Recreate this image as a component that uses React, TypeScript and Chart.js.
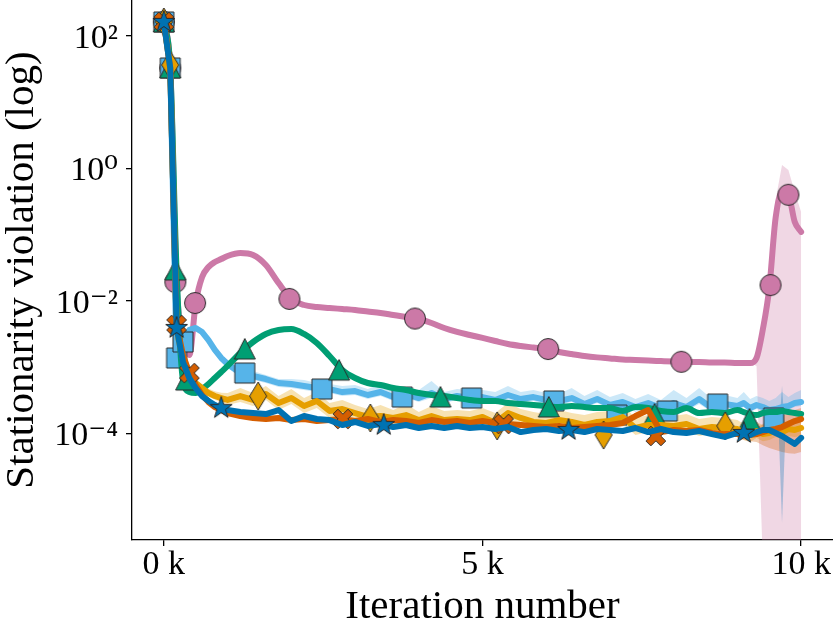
import React, { useEffect, useRef } from 'react';
import { Chart, registerables } from 'chart.js';

Chart.register(...registerables);

// ---------------- data ----------------
const iterations = [
  0, 100, 200, 300, 400, 500, 600, 700, 800, 900, 1000,
  1200, 1400, 1600, 1800, 2000, 2200, 2400, 2600, 2800, 3000,
  3200, 3400, 3600, 3800, 4000, 4200, 4400, 4600, 4800, 5000,
  5200, 5400, 5600, 5800, 6000, 6200, 6400, 6600, 6800, 7000,
  7200, 7400, 7600, 7800, 8000, 8200, 8400, 8600, 8800, 9000,
  9100, 9200, 9300, 9400, 9500, 9600, 9700, 9800, 9900, 10000,
];

const pinkVals = [
  163, 32.9, 0.0179, 0.00305, 0.00152, 0.00927, 0.0229, 0.0324, 0.0386, 0.0428, 0.0475,
  0.0527, 0.0492, 0.0348, 0.0186, 0.01065,
  0.00865, 0.00807, 0.0078, 0.00753, 0.00727,
  0.0069, 0.00655, 0.00611, 0.0057, 0.00532,
  0.00463, 0.00389, 0.0034, 0.00305, 0.00275,
  0.00247, 0.00223, 0.00208, 0.00197, 0.00187,
  0.00169, 0.00157, 0.00147, 0.0014, 0.00135,
  0.0013, 0.00128, 0.00125, 0.00123, 0.00121,
  0.00119, 0.00119, 0.00117, 0.00117, 0.00115,
  0.00115, 0.00115, 0.00137, 0.00375, 0.0156,
  0.18, 0.44, 0.40, 0.155, 0.11,
];

const lightBlueVals = [
  163, 32.9, 13.7e-4, 23.9e-4, 36.3e-4, 38.9e-4, 33.8e-4, 25.6e-4, 18.1e-4, 13.7e-4, 11.1e-4,
  8.12e-4, 7.32e-4, 6.59e-4, 5.74e-4, 5.54e-4,
  5.17e-4, 4.82e-4, 4.65e-4, 4.19e-4, 4.34e-4,
  3.78e-4, 4.19e-4, 3.52e-4, 3.91e-4, 3.40e-4,
  4.05e-4, 3.29e-4, 3.65e-4, 3.40e-4, 3.52e-4,
  3.18e-4, 3.78e-4, 3.29e-4, 3.52e-4, 3.18e-4,
  3.07e-4, 3.40e-4, 2.76e-4, 3.29e-4, 2.67e-4,
  2.96e-4, 2.49e-4, 2.86e-4, 2.40e-4, 2.86e-4,
  2.49e-4, 3.29e-4, 2.40e-4, 2.76e-4, 2.58e-4,
  2.86e-4, 2.40e-4, 2.67e-4, 2.49e-4, 2.24e-4,
  2.32e-4, 2.49e-4, 2.58e-4, 2.86e-4, 2.96e-4,
];
const lightBlueUpper = [
  175, 36, 15e-4, 26e-4, 39e-4, 42e-4, 37e-4, 28e-4, 20e-4, 15e-4, 12.8e-4,
  9.33e-4, 8.71e-4, 7.58e-4, 6.59e-4, 6.59e-4,
  6.37e-4, 5.74e-4, 5.54e-4, 5.17e-4, 5.35e-4,
  4.65e-4, 5.54e-4, 4.50e-4, 4.82e-4, 4.50e-4,
  6.15e-4, 4.19e-4, 4.65e-4, 4.50e-4, 4.50e-4,
  4.19e-4, 5.17e-4, 4.19e-4, 4.50e-4, 4.05e-4,
  3.91e-4, 4.82e-4, 3.65e-4, 4.50e-4, 3.52e-4,
  4.05e-4, 3.29e-4, 3.91e-4, 3.18e-4, 4.50e-4,
  3.40e-4, 4.82e-4, 3.29e-4, 3.78e-4, 3.40e-4,
  4.19e-4, 3.29e-4, 3.65e-4, 3.40e-4, 3.07e-4,
  3.40e-4, 4.19e-4, 3.52e-4, 4.05e-4, 4.50e-4,
];
const lightBlueLower = [
  150, 30, 12.5e-4, 22e-4, 33.5e-4, 36e-4, 31e-4, 23.5e-4, 16.5e-4, 12.5e-4, 9.66e-4,
  7.07e-4, 6.37e-4, 5.74e-4, 4.99e-4, 4.82e-4,
  4.50e-4, 4.19e-4, 4.05e-4, 3.65e-4, 3.78e-4,
  3.29e-4, 3.65e-4, 3.07e-4, 3.40e-4, 2.96e-4,
  3.40e-4, 2.86e-4, 3.18e-4, 2.96e-4, 3.07e-4,
  2.76e-4, 3.18e-4, 2.86e-4, 3.07e-4, 2.67e-4,
  2.67e-4, 2.96e-4, 2.40e-4, 2.86e-4, 2.32e-4,
  2.58e-4, 2.09e-4, 2.49e-4, 2.09e-4, 2.40e-4,
  2.17e-4, 2.76e-4, 2.09e-4, 2.32e-4, 2.24e-4,
  2.49e-4, 2.09e-4, 2.32e-4, 2.17e-4, 1.95e-4,
  2.02e-4, 2.17e-4, 2.24e-4, 2.49e-4, 2.58e-4,
];

const greenVals = [
  163, 32.9, 0.0272, 6.37e-4, 4.19e-4, 4.05e-4, 4.65e-4, 5.54e-4, 6.82e-4, 8.41e-4, 10.4e-4,
  16.3e-4, 23.9e-4, 31.6e-4, 36.3e-4, 37.5e-4,
  31.6e-4, 23.1e-4, 14.7e-4, 9.01e-4, 6.82e-4,
  5.74e-4, 5.35e-4, 4.82e-4, 4.50e-4, 4.05e-4,
  3.78e-4, 3.65e-4, 3.40e-4, 3.18e-4, 3.07e-4,
  3.07e-4, 2.86e-4, 2.76e-4, 2.67e-4, 2.58e-4,
  2.49e-4, 2.58e-4, 2.49e-4, 2.40e-4, 2.40e-4,
  2.17e-4, 2.49e-4, 2.40e-4, 2.17e-4, 2.09e-4,
  2.40e-4, 2.02e-4, 2.09e-4, 2.02e-4, 2.24e-4,
  2.09e-4, 1.95e-4, 1.88e-4, 2.02e-4, 2.09e-4,
  2.09e-4, 2.17e-4, 2.09e-4, 2.02e-4, 1.95e-4,
];

const orangeVals = [
  163, 36.5, 36.3e-4, 12.8e-4, 7.58e-4, 5.74e-4, 4.82e-4, 4.05e-4, 3.65e-4, 3.40e-4, 3.18e-4,
  3.65e-4, 3.18e-4, 3.91e-4, 2.86e-4, 3.40e-4,
  2.58e-4, 3.07e-4, 2.17e-4, 2.32e-4, 2.02e-4,
  1.76e-4, 1.82e-4, 1.70e-4, 1.88e-4, 1.58e-4,
  1.82e-4, 1.58e-4, 1.64e-4, 1.58e-4, 1.76e-4,
  1.43e-4, 2.02e-4, 1.70e-4, 1.48e-4, 1.43e-4,
  1.58e-4, 1.48e-4, 1.33e-4, 1.48e-4, 1.53e-4,
  1.76e-4, 1.20e-4, 1.33e-4, 1.33e-4, 1.29e-4,
  1.38e-4, 1.16e-4, 1.24e-4, 1.20e-4, 1.16e-4,
  1.01e-4, 0.94e-4, 1.08e-4, 0.97e-4, 1.01e-4,
  1.12e-4, 1.04e-4, 1.16e-4, 1.12e-4, 1.20e-4,
];
const orangeUpper = [
  175, 40, 40e-4, 14e-4, 8.4e-4, 6.5e-4, 5.5e-4, 4.7e-4, 4.3e-4, 4.1e-4, 4.05e-4,
  4.82e-4, 4.05e-4, 5.17e-4, 3.65e-4, 4.65e-4,
  3.40e-4, 4.19e-4, 2.86e-4, 3.18e-4, 2.67e-4,
  2.32e-4, 2.67e-4, 2.24e-4, 2.76e-4, 2.09e-4,
  2.58e-4, 2.17e-4, 2.24e-4, 2.17e-4, 2.40e-4,
  2.02e-4, 2.86e-4, 2.32e-4, 2.09e-4, 1.95e-4,
  2.24e-4, 2.02e-4, 1.88e-4, 2.09e-4, 2.17e-4,
  2.67e-4, 1.70e-4, 1.88e-4, 1.82e-4, 1.82e-4,
  1.95e-4, 1.64e-4, 1.76e-4, 1.70e-4, 1.58e-4,
  1.38e-4, 1.29e-4, 1.48e-4, 1.33e-4, 1.38e-4,
  1.53e-4, 1.43e-4, 1.58e-4, 1.53e-4, 1.64e-4,
];
const orangeLower = [
  150, 33, 33e-4, 11.5e-4, 6.8e-4, 5.1e-4, 4.3e-4, 3.6e-4, 3.2e-4, 3.0e-4, 2.67e-4,
  2.96e-4, 2.58e-4, 3.18e-4, 2.24e-4, 2.76e-4,
  2.02e-4, 2.40e-4, 1.70e-4, 1.82e-4, 1.58e-4,
  1.38e-4, 1.43e-4, 1.33e-4, 1.48e-4, 1.24e-4,
  1.43e-4, 1.24e-4, 1.29e-4, 1.24e-4, 1.38e-4,
  1.12e-4, 1.53e-4, 1.33e-4, 1.16e-4, 1.12e-4,
  1.24e-4, 1.16e-4, 1.04e-4, 1.12e-4, 1.20e-4,
  1.38e-4, 0.94e-4, 1.04e-4, 1.04e-4, 1.01e-4,
  1.08e-4, 0.91e-4, 0.97e-4, 0.94e-4, 0.88e-4,
  0.79e-4, 0.74e-4, 0.85e-4, 0.76e-4, 0.79e-4,
  0.88e-4, 0.82e-4, 0.91e-4, 0.88e-4, 0.91e-4,
];

const vermillionVals = [
  163, 32.9, 43.2e-4, 15.2e-4, 8.12e-4, 5.35e-4, 3.78e-4, 2.96e-4, 2.49e-4, 2.24e-4, 2.02e-4,
  1.82e-4, 1.70e-4, 1.64e-4, 1.70e-4, 1.58e-4,
  1.64e-4, 1.53e-4, 1.58e-4, 1.64e-4, 1.53e-4,
  1.64e-4, 1.48e-4, 1.58e-4, 1.53e-4, 1.43e-4,
  1.58e-4, 1.48e-4, 1.53e-4, 1.43e-4, 1.53e-4,
  1.43e-4, 1.38e-4, 1.33e-4, 1.29e-4, 1.24e-4,
  1.29e-4, 1.20e-4, 1.24e-4, 1.29e-4, 1.33e-4,
  1.43e-4, 1.82e-4, 2.24e-4, 1.04e-4, 1.12e-4,
  1.08e-4, 1.12e-4, 1.01e-4, 0.97e-4, 0.97e-4,
  0.94e-4, 0.94e-4, 0.97e-4, 1.04e-4, 1.12e-4,
  1.16e-4, 1.24e-4, 1.38e-4, 1.53e-4, 1.64e-4,
];
const vermillionBandIter = [9000, 9100, 9200, 9300, 9400, 9500, 9600, 9700, 9800, 9900, 10000];
const vermillionUpper = [1.12e-4, 1.12e-4, 1.12e-4, 1.20e-4, 1.38e-4, 1.58e-4, 1.70e-4, 1.82e-4, 2.02e-4, 2.24e-4, 2.40e-4];
const vermillionLower = [0.85e-4, 0.79e-4, 0.76e-4, 0.74e-4, 0.66e-4, 0.60e-4, 0.56e-4, 0.52e-4, 0.50e-4, 0.49e-4, 0.52e-4];

const blueVals = [
  163, 32.9, 38.9e-4, 11.9e-4, 6.82e-4, 4.82e-4, 3.65e-4, 3.07e-4, 2.67e-4, 2.40e-4, 2.24e-4,
  2.09e-4, 2.02e-4, 1.95e-4, 2.24e-4, 1.53e-4,
  1.82e-4, 1.64e-4, 1.58e-4, 1.33e-4, 1.48e-4,
  1.29e-4, 1.38e-4, 1.24e-4, 1.33e-4, 1.20e-4,
  1.29e-4, 1.20e-4, 1.29e-4, 1.20e-4, 1.24e-4,
  1.16e-4, 1.24e-4, 1.04e-4, 1.12e-4, 1.16e-4,
  1.08e-4, 1.12e-4, 1.04e-4, 1.16e-4, 1.12e-4,
  1.08e-4, 1.20e-4, 1.04e-4, 1.16e-4, 1.04e-4,
  1.01e-4, 1.08e-4, 0.97e-4, 0.88e-4, 1.01e-4,
  1.04e-4, 0.94e-4, 1.04e-4, 1.12e-4, 1.12e-4,
  1.01e-4, 0.91e-4, 0.79e-4, 0.69e-4, 0.85e-4,
];
const blueBandIter = [9650, 9700, 9750];
const blueUpper = [0.98e-4, 5.2e-4, 0.90e-4];
const blueLower = [0.92e-4, 4.4e-6, 0.84e-4];

const pinkBandIter = [9200, 9300, 9400, 9500, 9600, 9700, 9800, 9900, 10000];
const pinkUpper = [1.15e-3, 1.47e-3, 4.17e-3, 0.0206, 0.336, 1.13, 0.946, 0.44, 0.22];
const pinkLower = [1.15e-3, 1.04e-3, 1e-6, 1e-6, 1e-6, 1e-6, 1e-6, 1e-6, 1e-6];

// marker positions
const pinkMarkIter = [0, 100, 180, 490, 1970, 3940, 6030, 8120, 9520, 9800];
const pinkMarkVals = [163, 32.9, 0.0192, 0.00927, 0.0107, 0.0054, 0.00187, 0.0012, 0.0173, 0.40];
const lightBlueMarkIter = [0, 100, 200, 300, 1270, 2480, 3740, 4830, 6120, 7110, 7900, 8690, 9570];
const lightBlueMarkVals = [163, 32.9, 13.7e-4, 23.9e-4, 8.12e-4, 4.65e-4, 3.52e-4, 3.40e-4, 3.07e-4, 1.88e-4, 2.17e-4, 2.76e-4, 1.70e-4];
const greenMarkIter = [0, 100, 180, 350, 1270, 2750, 4340, 6040, 7700, 9190];
const greenMarkVals = [163, 32.9, 0.0292, 6.37e-4, 18.7e-4, 9.0e-4, 3.52e-4, 2.49e-4, 1.95e-4, 1.64e-4];
const orangeMarkIter = [0, 100, 1480, 3240, 5230, 6900, 8810];
const orangeMarkVals = [163, 36.5, 3.65e-4, 1.70e-4, 1.29e-4, 0.94e-4, 1.29e-4];
const vermillionMarkIter = [0, 200, 400, 2810, 5330, 7720];
const vermillionMarkVals = [163, 43.2e-4, 8.12e-4, 1.64e-4, 1.38e-4, 0.91e-4];
const blueMarkIter = [0, 200, 900, 3450, 6350, 9100];
const blueMarkVals = [163, 38.9e-4, 2.40e-4, 1.33e-4, 1.12e-4, 1.01e-4];

// ticks
const xTickValues = [0, 5000, 10000];
const xTickLabels = ['0 k', '5 k', '10 k'];
const yTickValues = [1e-4, 1e-2, 1, 100];
const yTickLabels = ['10\u207B\u2074', '10\u207B\u00B2', '10\u2070', '10\u00B2'];

const C = {
  pink: '#CC79A7',
  lightBlue: '#56B4E9',
  green: '#009E73',
  orange: '#E69F00',
  vermillion: '#D55E00',
  blue: '#0072B2',
};
const BAND = {
  pink: 'rgba(204,121,167,0.3)',
  lightBlue: 'rgba(86,180,233,0.3)',
  orange: 'rgba(230,159,0,0.3)',
  vermillion: 'rgba(213,94,0,0.3)',
  blue: 'rgba(0,114,178,0.3)',
};
const FONT = "'Liberation Serif', 'DejaVu Serif', serif";

function pts(xs: number[], ys: number[]) {
  return xs.map((x, i) => ({ x, y: ys[i] }));
}

function markerCanvas(kind: string, color: string): HTMLCanvasElement {
  const size = 32;
  const c = document.createElement('canvas');
  c.width = size;
  c.height = size;
  const ctx = c.getContext('2d')!;
  const m = size / 2;
  ctx.beginPath();
  if (kind === 'circle') {
    ctx.arc(m, m, 10.5, 0, Math.PI * 2);
  } else if (kind === 'square') {
    ctx.rect(m - 10, m - 10, 20, 20);
  } else if (kind === 'triangle') {
    ctx.moveTo(m, m - 10.5);
    ctx.lineTo(m + 10.5, m + 10);
    ctx.lineTo(m - 10.5, m + 10);
    ctx.closePath();
  } else if (kind === 'diamond') {
    ctx.moveTo(m, m - 14);
    ctx.lineTo(m + 8.5, m);
    ctx.lineTo(m, m + 14);
    ctx.lineTo(m - 8.5, m);
    ctx.closePath();
  } else if (kind === 'star') {
    for (let k = 0; k < 10; k++) {
      const a = -Math.PI / 2 + (k * Math.PI) / 5;
      const r = k % 2 === 0 ? 11.5 : 4.5;
      const px = m + r * Math.cos(a);
      const py = m + r * Math.sin(a);
      if (k === 0) ctx.moveTo(px, py);
      else ctx.lineTo(px, py);
    }
    ctx.closePath();
  } else if (kind === 'x') {
    const L = 10.5;
    const t = 3.4;
    const plus = [
      [t, L], [t, t], [L, t], [L, -t], [t, -t], [t, -L],
      [-t, -L], [-t, -t], [-L, -t], [-L, t], [-t, t], [-t, L],
    ];
    plus.forEach(([px, py], k) => {
      const rx = m + (px - py) / Math.SQRT2;
      const ry = m + (px + py) / Math.SQRT2;
      if (k === 0) ctx.moveTo(rx, ry);
      else ctx.lineTo(rx, ry);
    });
    ctx.closePath();
  }
  ctx.fillStyle = color;
  ctx.fill();
  ctx.lineWidth = 1;
  ctx.strokeStyle = '#2a2a2a';
  ctx.stroke();
  return c;
}

export default function App() {
  const ref = useRef<HTMLCanvasElement>(null);

  useEffect(() => {
    document.body.style.margin = '0';
    const canvas = ref.current;
    if (!canvas) return;

    const datasets: any[] = [];
    const add = (z: number, ds: any) => datasets.push({ ...ds, order: 100 - z });
    const band = (z: number, xs: number[], up: number[], lo: number[], color: string) => {
      add(z, { data: pts(xs, lo), borderWidth: 0, pointRadius: 0, fill: false, backgroundColor: color });
      add(z, { data: pts(xs, up), borderWidth: 0, pointRadius: 0, fill: '-1', backgroundColor: color });
    };
    const line = (z: number, ys: number[], color: string, smooth: boolean) =>
      add(z, {
        data: pts(iterations, ys),
        borderColor: color,
        borderWidth: 6,
        pointRadius: 0,
        fill: false,
        tension: 0,
        cubicInterpolationMode: smooth ? 'monotone' : 'default',
        borderJoinStyle: 'round',
        borderCapStyle: 'round',
      });
    const marks = (z: number, xs: number[], ys: number[], img: HTMLCanvasElement) =>
      add(z, {
        data: pts(xs, ys),
        showLine: false,
        pointStyle: img,
        pointRadius: 10,
        pointHoverRadius: 10,
        fill: false,
      });

    // bands (drawn beneath all lines)
    band(1, pinkBandIter, pinkUpper, pinkLower, BAND.pink);
    band(2, iterations, lightBlueUpper, lightBlueLower, BAND.lightBlue);
    band(3, iterations, orangeUpper, orangeLower, BAND.orange);
    band(4, vermillionBandIter, vermillionUpper, vermillionLower, BAND.vermillion);
    band(5, blueBandIter, blueUpper, blueLower, BAND.blue);

    // lines + markers
    line(6, pinkVals, C.pink, true);
    marks(7, pinkMarkIter, pinkMarkVals, markerCanvas('circle', C.pink));
    line(8, lightBlueVals, C.lightBlue, false);
    marks(9, lightBlueMarkIter, lightBlueMarkVals, markerCanvas('square', C.lightBlue));
    line(10, greenVals, C.green, true);
    marks(11, greenMarkIter, greenMarkVals, markerCanvas('triangle', C.green));
    line(12, orangeVals, C.orange, false);
    marks(13, orangeMarkIter, orangeMarkVals, markerCanvas('diamond', C.orange));
    line(14, vermillionVals, C.vermillion, false);
    marks(15, vermillionMarkIter, vermillionMarkVals, markerCanvas('x', C.vermillion));
    line(16, blueVals, C.blue, false);
    marks(17, blueMarkIter, blueMarkVals, markerCanvas('star', C.blue));

    const chart = new Chart(canvas, {
      type: 'line',
      data: { datasets },
      options: {
        animation: false,
        responsive: false,
        devicePixelRatio: 1,
        events: [],
        layout: { padding: 0, autoPadding: false },
        plugins: { legend: { display: false }, tooltip: { enabled: false } },
        scales: {
          x: {
            type: 'linear',
            min: -500,
            max: 10500,
            afterBuildTicks: (s: any) => {
              s.ticks = xTickValues.map((v) => ({ value: v }));
            },
            afterFit: (s: any) => {
              s.height = 89;
              s.paddingLeft = 0;
              s.paddingRight = 0;
            },
            grid: { display: true, drawOnChartArea: false, drawTicks: true, tickLength: 6, color: '#000', lineWidth: 1.3 },
            border: { display: true, color: '#000', width: 1.3 },
            ticks: {
              color: '#000',
              font: { family: FONT, size: 34, lineHeight: 1 },
              padding: 2,
              maxRotation: 0,
              autoSkip: false,
              callback: (v: any) => {
                const i = xTickValues.indexOf(Number(v));
                return i >= 0 ? xTickLabels[i] : '';
              },
            },
            title: {
              display: true,
              text: 'Iteration number',
              color: '#000',
              font: { family: FONT, size: 41, lineHeight: 1.07 },
              padding: 0,
            },
          },
          y: {
            type: 'logarithmic',
            min: 2.44e-6,
            max: 350,
            afterBuildTicks: (s: any) => {
              s.ticks = yTickValues.map((v) => ({ value: v }));
            },
            afterFit: (s: any) => {
              s.width = 132;
              s.paddingTop = 0;
              s.paddingBottom = 0;
            },
            grid: { display: true, drawOnChartArea: false, drawTicks: true, tickLength: 6, color: '#000', lineWidth: 1.3 },
            border: { display: true, color: '#000', width: 1.3 },
            ticks: {
              color: '#000',
              font: { family: FONT, size: 34, lineHeight: 1 },
              padding: 8,
              labelOffset: 3,
              autoSkip: false,
              callback: (v: any) => {
                const lv = Math.log10(Number(v));
                const i = yTickValues.findIndex((t) => Math.abs(Math.log10(t) - lv) < 1e-6);
                return i >= 0 ? yTickLabels[i] : '';
              },
            },
            title: {
              display: true,
              text: 'Stationarity violation (log)',
              color: '#000',
              font: { family: FONT, size: 41, lineHeight: 1.07 },
              padding: 0,
            },
          },
        },
      } as any,
    });

    return () => chart.destroy();
  }, []);

  return <canvas ref={ref} width={833} height={629} style={{ display: 'block' }} />;
}
